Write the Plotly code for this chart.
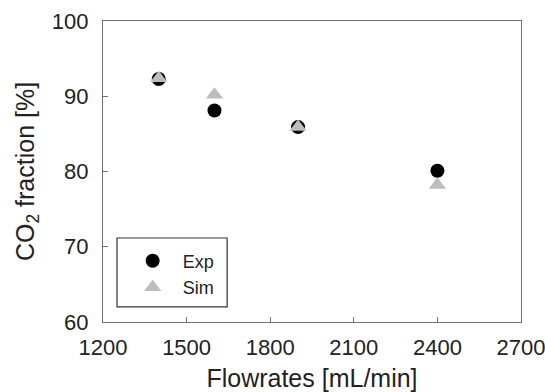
import plotly.graph_objects as go

# Measured CO2 fraction vs. simulation at each flowrate
flowrates = [1400, 1600, 1900, 2400]
exp_values = [92.3, 88.1, 85.9, 80.1]
sim_values = [92.4, 90.2, 85.9, 78.2]

x_ticks = [1200, 1500, 1800, 2100, 2400, 2700]
y_ticks = [60, 70, 80, 90, 100]

font_family = "Liberation Sans, Arial, sans-serif"
text_color = "#222"

fig = go.Figure()
fig.add_trace(go.Scatter(
    x=flowrates, y=exp_values, mode="markers", name="Exp",
    marker=dict(symbol="circle", size=14, color="black"),
))
fig.add_trace(go.Scatter(
    x=flowrates, y=sim_values, mode="markers", name="Sim",
    marker=dict(symbol="triangle-up", size=15, color="#bdbdbd"),
))

axis_common = dict(
    showgrid=False, zeroline=False, automargin=False,
    showline=True, linecolor="#707070", linewidth=1.2, mirror=True,
    ticks="inside", ticklen=5, tickcolor="#707070",
    tickfont=dict(size=22, color=text_color, family=font_family),
    ticklabeloverflow="allow",
)

fig.update_xaxes(
    range=[1200, 2700], tickvals=x_ticks, ticklabelstandoff=5,
    title=dict(text="Flowrates [mL/min]", font=dict(size=25, color=text_color, family=font_family), standoff=13),
    **axis_common,
)
fig.update_yaxes(
    range=[60, 100], tickvals=y_ticks, ticklabelstandoff=9,
    title=dict(text="CO<sub>2</sub> fraction [%]", font=dict(size=25, color=text_color, family=font_family), standoff=10),
    **axis_common,
)

# Frame around the legend entries
fig.add_shape(
    type="rect", xref="paper", yref="paper",
    x0=0.0335, x1=0.297, y0=0.05, y1=0.279,
    line=dict(color="#333", width=1.2), fillcolor="white", layer="below",
)

fig.update_layout(
    width=545, height=392,
    margin=dict(l=103, r=24, t=21, b=70),
    plot_bgcolor="white", paper_bgcolor="white",
    showlegend=True,
    legend=dict(
        x=0.047, y=0.264, xanchor="left", yanchor="top",
        bgcolor="rgba(0,0,0,0)", borderwidth=0,
        font=dict(size=18, color=text_color, family=font_family),
        itemwidth=50, tracegroupgap=0,
    ),
)

fig.write_html("out.html")
